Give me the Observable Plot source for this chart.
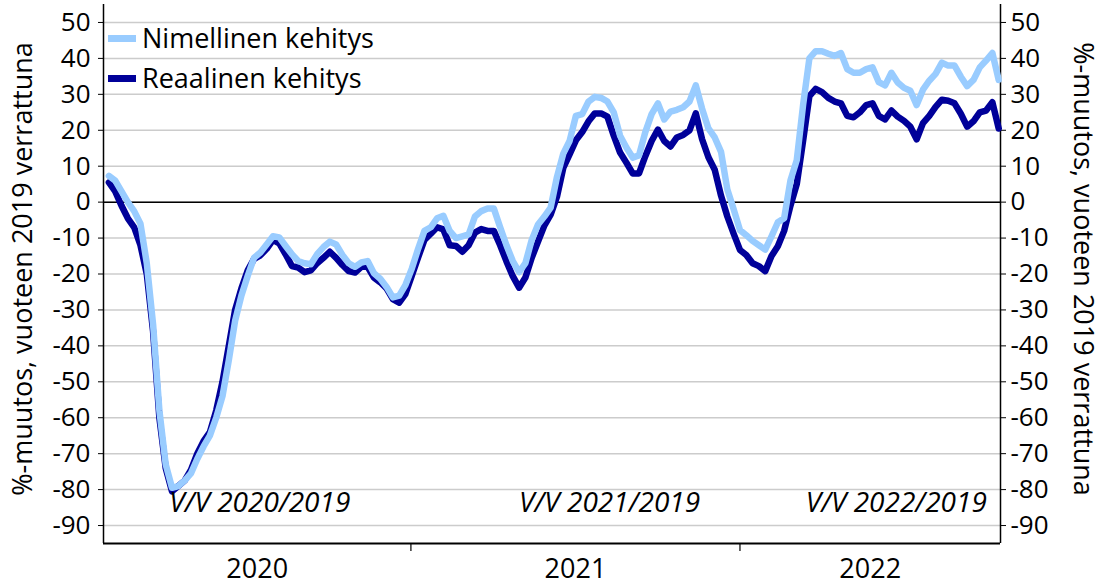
<!DOCTYPE html>
<html>
<head>
<meta charset="utf-8">
<script src="https://cdn.jsdelivr.net/npm/d3@7"></script>
<script src="https://cdn.jsdelivr.net/npm/@observablehq/plot@0.6"></script>
<style>
  html, body { margin: 0; padding: 0; background: #fff; }
  #wrap { position: relative; width: 1103px; height: 586px; font-family: "Open Sans", sans-serif; }
  .leg { position: absolute; left: 108px; height: 30px; line-height: 30px; display: flex; align-items: center; font-size: 27px; color: #000; white-space: nowrap; }
  .sw { width: 28px; height: 7px; margin-right: 6px; }
</style>
</head>
<body>
<div id="wrap"></div>
<script>
// Weekly series, first week starting 2020-02-01
const firstWeek = "2020-02-01";
const seriesNames = ["Nimellinen kehitys", "Reaalinen kehitys"];
const seriesColors = ["#99ccff", "#000099"];

const nimellinen = [
  7.3, 6, 3, 0, -2.5, -6, -17, -34, -58, -73,
  -79.5, -79, -77.5, -75.5, -71.5, -68, -65, -60, -54, -44,
  -33, -26, -20.5, -15.5, -14, -11.8, -9.5, -9.8, -12.2, -14.5,
  -16.4, -17, -17.3, -14.5, -12.5, -11, -11.8, -14.7, -17, -18,
  -16.8, -16.4, -19.8, -21.3, -23.6, -26.5, -26, -23, -18.5, -13,
  -8, -7, -4.5, -3.8, -8, -10, -9.5, -9, -4, -2.5,
  -1.8, -1.8, -7, -12, -16.4, -19.5, -17, -10.5, -6.2, -4,
  -1.5, 7, 13.5, 17, 24, 24.5, 28, 29.3, 29, 28,
  25, 18.5, 15.2, 12.4, 13, 19.5, 24.5, 27.5, 23, 25.2,
  25.7, 26.4, 28, 32.5, 26, 20.5, 18, 14, 3.5, -2,
  -7.8, -9.2, -10.8, -12, -13.2, -9.5, -5.6, -4.5, 6, 11.7,
  27, 40, 42, 42, 41.3, 40.7, 41.5, 37, 36, 36,
  37, 37.5, 33.4, 32.5, 36, 33.3, 31.8, 31, 27, 31.3,
  33.8, 35.7, 38.8, 38, 38, 34.9, 32.3, 34, 37.5, 39.4,
  41.5, 34
];
const reaalinen = [
  5.5, 3, -1, -4.5, -7, -12, -20, -36, -60, -74,
  -80.5, -79, -77.5, -74.5, -70, -66.5, -64, -58, -50, -40,
  -30, -24, -19, -15.8, -14.8, -13, -10.5, -11.5, -14.5, -17.8,
  -18.2, -19.5, -19, -17, -15.5, -13.8, -15.5, -17.5, -19.2, -19.6,
  -18, -18, -21, -22.3, -24, -27, -28, -25.5, -20.5, -15.4,
  -10.5, -8.8, -7, -7.6, -12, -12.2, -13.8, -12, -8.5, -7.5,
  -8, -8, -12, -16.5, -20.6, -23.8, -21, -15.5, -11, -6.5,
  -3.5, 1.5, 9.5, 13.3, 17.2, 19.5, 22.5, 24.7, 24.7, 23.8,
  18.5, 13.8, 11, 8, 8, 12.8, 17, 20.2, 17, 15.5,
  18, 18.7, 20, 24.7, 17.5, 12.5, 9, 1.8, -4, -8.8,
  -13.3, -14.7, -17, -17.8, -19.2, -15, -12.3, -8, -1, 5,
  17, 29.5, 31.5, 30.6, 29, 28, 27.5, 24, 23.6, 25,
  27, 27.5, 24, 23, 25.5, 23.8, 22.6, 21, 17.5, 22,
  24, 26.5, 28.5, 28.2, 27.5, 24.6, 21, 22.5, 25, 25.5,
  27.8, 20.5
];

const yTicks = [-90, -80, -70, -60, -50, -40, -30, -20, -10, 0, 10, 20, 30, 40, 50];
const yearStarts = ["2021-01-01", "2022-01-01"];
const yearLabels = ["2020", "2021", "2022"];
const axisTitle = "%-muutos, vuoteen 2019 verrattuna";
const annotTexts = ["V/V 2020/2019", "V/V 2021/2019", "V/V 2022/2019"];
const annotDates = ["2020-04-08", "2021-05-01", "2022-03-15"];
const annotValue = -83.8;

const xDomain = [new Date("2020-01-26"), new Date("2022-10-17")];
const yDomain = [-95, 55];

const start = new Date(firstWeek);
const weekDate = i => d3.utcDay.offset(start, 7 * i);
const rows = [];
nimellinen.forEach((v, i) => rows.push({date: weekDate(i), value: v, series: seriesNames[0]}));
reaalinen.forEach((v, i) => rows.push({date: weekDate(i), value: v, series: seriesNames[1]}));

const ys = yearStarts.map(d => new Date(d));
const bounds = [xDomain[0], ...ys, xDomain[1]];
const yearMids = yearLabels.map((_, i) => new Date((+bounds[i] + +bounds[i + 1]) / 2));
const annots = annotTexts.map((t, i) => ({text: t, date: new Date(annotDates[i]), value: annotValue}));

const chart = Plot.plot({
  width: 1103,
  height: 586,
  marginLeft: 103,
  marginRight: 103,
  marginTop: 4,
  marginBottom: 43,
  style: {fontFamily: "'Open Sans', sans-serif", fontSize: "26px", color: "#000", background: "#fff", overflow: "visible"},
  x: {type: "utc", domain: xDomain},
  y: {domain: yDomain},
  marks: [
    Plot.gridY(yTicks, {stroke: "#cccccc", strokeOpacity: 1, strokeWidth: 1.5}),
    Plot.ruleY([0], {stroke: "#000", strokeWidth: 1.5}),
    Plot.ruleY([yDomain[0]], {stroke: "#000", strokeWidth: 2}),
    Plot.ruleX(xDomain, {stroke: "#000", strokeWidth: 1.5}),
    Plot.axisY(yTicks, {anchor: "left", tickSize: 5, tickPadding: 8, tickFormat: d => String(d), label: null, fontSize: 26}),
    Plot.axisY(yTicks, {anchor: "right", tickSize: 5, tickPadding: 5, tickFormat: d => String(d), label: null, fontSize: 26}),
    Plot.axisX(ys, {tickSize: 8, tickFormat: () => "", label: null, strokeWidth: 1.2}),
    Plot.axisX(yearMids, {tickSize: 0, tickPadding: 15, tickFormat: (d, i) => yearLabels[i], label: null, fontSize: 27}),
    Plot.text([axisTitle], {frameAnchor: "left", textAnchor: "middle", rotate: -90, dx: -80, dy: -5, fontSize: 27}),
    Plot.text([axisTitle], {frameAnchor: "right", textAnchor: "middle", rotate: 90, dx: 82, dy: -5, fontSize: 27}),
    Plot.line(rows.filter(d => d.series === seriesNames[1]), {x: "date", y: "value", stroke: seriesColors[1], strokeWidth: 6.5, strokeLinejoin: "round"}),
    Plot.line(rows.filter(d => d.series === seriesNames[0]), {x: "date", y: "value", stroke: seriesColors[0], strokeWidth: 6.5, strokeLinejoin: "round"}),
    Plot.text(annots, {x: "date", y: "value", text: "text", textAnchor: "start", fontStyle: "italic", fontSize: 28})
  ]
});

const wrap = document.getElementById("wrap");
wrap.appendChild(chart);
const tops = [23, 63];
seriesNames.forEach((name, i) => {
  const row = document.createElement("div");
  row.className = "leg";
  row.style.top = tops[i] + "px";
  const sw = document.createElement("div");
  sw.className = "sw";
  sw.style.background = seriesColors[i];
  const tx = document.createElement("span");
  tx.textContent = name;
  row.appendChild(sw);
  row.appendChild(tx);
  wrap.appendChild(row);
});
</script>
</body>
</html>
